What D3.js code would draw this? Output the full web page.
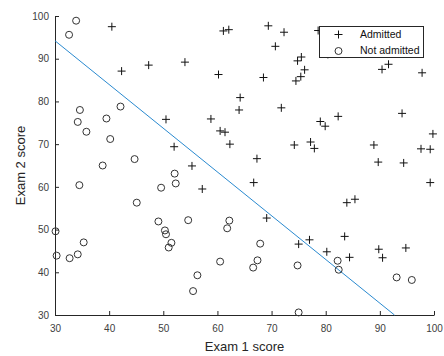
<!DOCTYPE html>
<html>
<head>
<meta charset="utf-8">
<script src="https://cdn.jsdelivr.net/npm/d3@7"></script>
<style>
  body { margin: 0; background: #fff; }
  text { font-family: "Liberation Sans", Arial, sans-serif; fill: #262626; }
</style>
</head>
<body>
<div id="chart"></div>
<script>
/**
 * DATA
 * */
const exam1 = [34.6,30.3,35.8,60.2,79.0,45.1,61.1,75.0,76.1,84.4,95.9,75.0,82.3,69.4,39.5,54.0,69.1,67.9,70.7,77.0,
  67.4,89.7,50.5,34.2,77.9,62.3,80.2,93.1,61.8,38.8,61.4,85.4,52.1,52.0,40.2,54.6,33.9,64.2,74.8,34.2,
  83.9,51.5,94.4,82.4,51.0,62.2,77.2,97.8,62.1,91.6,79.9,99.3,90.5,34.5,50.3,49.6,97.6,32.6,74.2,71.8,
  75.4,35.3,56.3,30.1,44.7,66.6,40.5,49.1,80.3,66.7,32.7,64.0,72.3,60.5,58.8,99.8,47.3,50.5,60.5,82.2,
  88.9,94.8,67.3,57.2,80.4,68.5,42.1,75.5,78.6,52.3,94.1,90.4,55.5,74.5,89.8,83.5,42.3,99.3,55.3,74.8];
const exam2 = [78.0,43.9,72.9,86.3,75.3,56.3,96.5,46.6,87.4,43.5,38.2,30.6,76.5,97.7,76.0,89.2,52.7,46.7,92.9,47.6,
  42.8,65.8,48.9,44.2,69.0,70.0,44.8,38.8,50.3,65.0,72.8,57.1,63.1,69.4,71.2,52.2,98.9,80.9,41.6,75.2,
  56.3,46.9,65.6,40.6,45.8,52.1,70.5,86.7,96.8,88.7,74.2,61.0,43.4,60.4,49.8,59.8,68.9,95.6,69.8,78.5,
  85.8,47.0,39.3,49.6,66.5,41.1,97.5,51.9,92.1,61.0,43.3,78.0,96.2,73.1,75.9,72.4,88.5,75.8,42.5,42.7,
  69.8,45.7,66.6,59.5,91.0,85.6,78.8,90.4,96.6,60.8,77.2,87.5,35.6,84.8,45.4,48.4,87.1,68.8,64.9,89.5];
const admitted = [0,0,0,1,1,0,1,1,1,1,0,0,1,1,0,1,1,0,1,1,
  0,1,0,0,1,1,1,0,0,0,1,1,0,1,0,0,0,1,0,0,
  1,0,1,0,0,0,1,1,1,1,1,1,1,0,0,0,1,0,1,1,
  1,0,0,0,0,0,1,0,1,1,0,1,1,1,1,1,1,1,0,0,
  1,1,1,1,1,1,0,1,1,0,1,1,0,1,1,1,1,1,1,1];

// decision boundary end points
const boundaryX = [30, 92.7];
const boundaryY = [94.2, 30];

const xTicks = [30, 40, 50, 60, 70, 80, 90, 100];
const yTicks = [30, 40, 50, 60, 70, 80, 90, 100];
const legendLabels = ["Admitted", "Not admitted"];

/**
 * CONSTANTS
 * */
const width = 444,
  height = 356,
  margin = { top: 16, right: 10, bottom: 41, left: 55 };
const innerW = width - margin.left - margin.right,
  innerH = height - margin.top - margin.bottom;

const points = exam1.map((d, i) => ({ x: d, y: exam2[i], pass: admitted[i] }));

const svg = d3.select("#chart")
  .append("svg")
  .attr("width", width)
  .attr("height", height);

const g = svg.append("g")
  .attr("transform", `translate(${margin.left},${margin.top})`);

const xScale = d3.scaleLinear().domain([30, 100]).range([0, innerW]);
const yScale = d3.scaleLinear().domain([30, 100]).range([innerH, 0]);

// axes (ticks pointing inward, like matlab)
const xAxis = g.append("g")
  .attr("transform", `translate(0,${innerH})`)
  .call(d3.axisBottom(xScale).tickValues(xTicks).tickSizeInner(-4).tickSizeOuter(0).tickPadding(10));
const yAxis = g.append("g")
  .call(d3.axisLeft(yScale).tickValues(yTicks).tickSizeInner(-4).tickSizeOuter(0).tickPadding(6));

[xAxis, yAxis].forEach(a => {
  a.selectAll("path, line").attr("stroke", "#262626");
  a.selectAll("text").attr("font-size", 10).style("fill", "#404040");
  a.attr("font-family", null);
});

// boundary line
const line = d3.line().x(d => xScale(d[0])).y(d => yScale(d[1]));
g.append("path")
  .datum(boundaryX.map((d, i) => [d, boundaryY[i]]))
  .attr("d", line)
  .attr("fill", "none")
  .attr("stroke", "#2a8ad0")
  .attr("stroke-width", 1);

const plusPath = "M-4,0H4M0,-4V4";

// admitted
g.selectAll(".plus")
  .data(points.filter(d => d.pass === 1))
  .join("path")
  .attr("class", "plus")
  .attr("transform", d => `translate(${xScale(d.x)},${yScale(d.y)})`)
  .attr("d", plusPath)
  .attr("stroke", "#111")
  .attr("stroke-width", 1)
  .attr("fill", "none");

// not admitted
g.selectAll(".ring")
  .data(points.filter(d => d.pass === 0))
  .join("circle")
  .attr("class", "ring")
  .attr("cx", d => xScale(d.x))
  .attr("cy", d => yScale(d.y))
  .attr("r", 3.5)
  .attr("fill", "none")
  .attr("stroke", "#333")
  .attr("stroke-width", 1);

// axis labels
svg.append("text")
  .attr("x", margin.left + innerW / 2)
  .attr("y", 350.5)
  .attr("text-anchor", "middle")
  .attr("font-size", 13)
  .style("fill", "#262626")
  .text("Exam 1 score");

svg.append("text")
  .attr("transform", `translate(25,${margin.top + innerH / 2}) rotate(-90)`)
  .attr("text-anchor", "middle")
  .attr("font-size", 13)
  .style("fill", "#262626")
  .text("Exam 2 score");

// legend
const legend = svg.append("g").attr("transform", "translate(319.5,26.5)");
legend.append("rect")
  .attr("width", 104)
  .attr("height", 31)
  .attr("fill", "#fff")
  .attr("stroke", "#262626")
  .attr("stroke-width", 1);

legend.append("path")
  .attr("transform", "translate(19,8)")
  .attr("d", plusPath)
  .attr("stroke", "#111")
  .attr("fill", "none");
legend.append("circle")
  .attr("cx", 19)
  .attr("cy", 24.5)
  .attr("r", 3.5)
  .attr("fill", "none")
  .attr("stroke", "#333");

legend.selectAll(".lab")
  .data(legendLabels)
  .join("text")
  .attr("class", "lab")
  .attr("x", 40.5)
  .attr("y", (d, i) => 11.8 + i * 16)
  .attr("font-size", 10.5)
  .style("fill", "#111")
  .text(d => d);
</script>
</body>
</html>
